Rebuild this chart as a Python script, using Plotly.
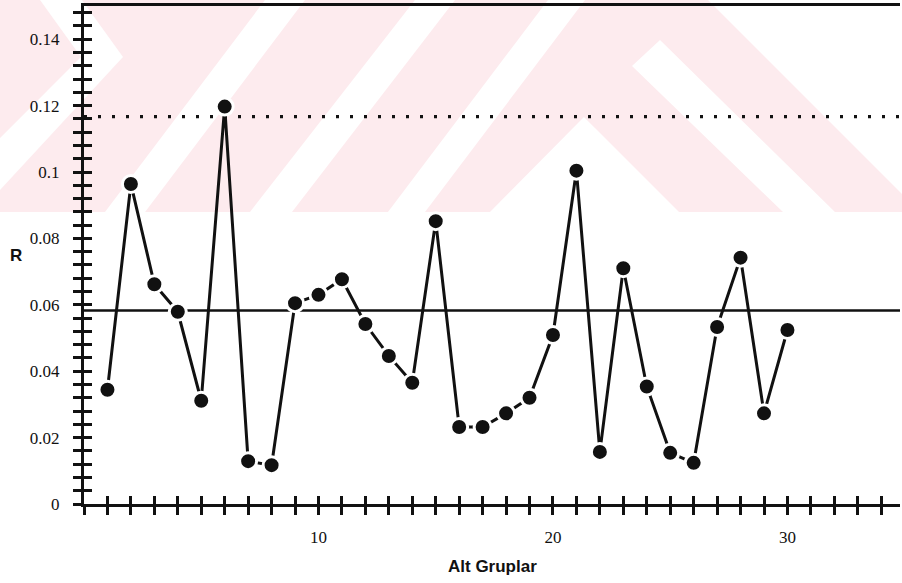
import plotly.graph_objects as go

# ---- data: subgroup ranges and control limits ----
subgroups = list(range(1, 31))
ranges = [0.0344, 0.0964, 0.0662, 0.0579, 0.0311, 0.1197, 0.0129, 0.0117, 0.0605, 0.0630,
          0.0677, 0.0542, 0.0446, 0.0365, 0.0852, 0.0232, 0.0232, 0.0273, 0.0320, 0.0509,
          0.1004, 0.0157, 0.0710, 0.0354, 0.0154, 0.0124, 0.0533, 0.0742, 0.0273, 0.0524]
center_line = 0.0583
upper_limit = 0.1167

x_label_vals = [10, 20, 30]
x_label_text = ["10", "20", "30"]
y_label_vals = [0, 0.02, 0.04, 0.06, 0.08, 0.10, 0.12, 0.14]
y_label_text = ["0", "0.02", "0.04", "0.06", "0.08", "0.1", "0.12", "0.14"]

X_RANGE = [0, 34.8]
Y_RANGE = [0, 0.15]

# tick marks: one per subgroup along x, every 0.004 along y
x_ticks = list(range(0, 35))
y_ticks = [round(i * 0.004, 3) for i in range(38)]
x_ticktext = [x_label_text[x_label_vals.index(v)] if v in x_label_vals else "" for v in x_ticks]
y_ticktext = []
for v in y_ticks:
    hit = [t for lv, t in zip(y_label_vals, y_label_text) if abs(lv - v) < 1e-9]
    y_ticktext.append(hit[0] if hit else "")

# ---- page geometry ----
W, H = 902, 583
ML, MR, MT, MB = 84, 2, 6, 79
PW, PH = W - ML - MR, H - MT - MB


def px_path(points):
    """Polygon given in page pixels -> SVG path in paper units."""
    segs = []
    for i, (px, py) in enumerate(points):
        xp = (px - ML) / PW
        yp = (H - MB - py) / PH
        segs.append(("M" if i == 0 else "L") + f"{xp:.4f},{yp:.4f}")
    return " ".join(segs) + " Z"


PINK = "#fdebee"
BAND_BOTTOM = 212

# faint background emblem: pink band cut by white chevrons and stripes
emblem_white = [
    [(40, 0), (82, 0), (123, 57), (0, 190), (0, 138), (81, 57)],
    [(105, BAND_BOTTOM), (145, BAND_BOTTOM), (305, 0), (265, 0)],
    [(250, BAND_BOTTOM), (292, BAND_BOTTOM), (455, 0), (415, 0)],
    [(388, BAND_BOTTOM), (425, BAND_BOTTOM), (585, 0), (548, 0)],
    [(584, 117), (490, BAND_BOTTOM), (679, BAND_BOTTOM)],
    [(632, 66), (660, 40), (835, BAND_BOTTOM), (783, BAND_BOTTOM)],
    [(708, 0), (W, 0), (W, 194)],
]

shapes = [dict(type="path", xref="paper", yref="paper", layer="below",
               path=px_path([(0, 0), (W, 0), (W, BAND_BOTTOM), (0, BAND_BOTTOM)]),
               fillcolor=PINK, line=dict(width=0))]
for poly in emblem_white:
    shapes.append(dict(type="path", xref="paper", yref="paper", layer="below",
                       path=px_path(poly), fillcolor="white", line=dict(width=0)))

INK = "#111111"
SERIF = "Times New Roman, Liberation Serif, DejaVu Serif, serif"
SANS = "Arial, Liberation Sans, sans-serif"

fig = go.Figure()

# control limits
fig.add_trace(go.Scatter(x=X_RANGE, y=[upper_limit, upper_limit], mode="lines",
                         line=dict(color=INK, width=3.2, dash="3px,11px"),
                         hoverinfo="skip", showlegend=False))
fig.add_trace(go.Scatter(x=X_RANGE, y=[center_line, center_line], mode="lines",
                         line=dict(color=INK, width=2.6),
                         hoverinfo="skip", showlegend=False))

# subgroup ranges
fig.add_trace(go.Scatter(x=subgroups, y=ranges, mode="lines+markers",
                         line=dict(color=INK, width=3),
                         marker=dict(color=INK, size=17, line=dict(color="white", width=3)),
                         showlegend=False))

# helper trace so the inward-tick overlay axes are drawn
fig.add_trace(go.Scatter(x=[None], y=[None], xaxis="x2", yaxis="y2",
                         hoverinfo="skip", showlegend=False))

axis_common = dict(showgrid=False, zeroline=False, tickcolor=INK, tickwidth=2.5)

fig.update_layout(
    width=W, height=H,
    margin=dict(l=ML, r=MR, t=MT, b=MB),
    paper_bgcolor="white",
    plot_bgcolor="rgba(0,0,0,0)",
    shapes=shapes,
    xaxis=dict(range=X_RANGE, tickmode="array", tickvals=x_ticks, ticktext=x_ticktext,
               ticks="outside", ticklen=8, showline=True, linewidth=3, linecolor=INK,
               mirror=True, ticklabelstandoff=8,
               tickfont=dict(family=SERIF, size=17, color=INK), **axis_common),
    yaxis=dict(range=Y_RANGE, tickmode="array", tickvals=y_ticks, ticktext=y_ticktext,
               ticks="outside", ticklen=8, showline=True, linewidth=3, linecolor=INK,
               ticklabelstandoff=10,
               tickfont=dict(family=SERIF, size=17, color=INK), **axis_common),
    xaxis2=dict(range=X_RANGE, overlaying="x", anchor="y", side="bottom",
                tickmode="array", tickvals=x_ticks, ticks="inside", ticklen=8,
                showticklabels=False, showline=False, **axis_common),
    yaxis2=dict(range=Y_RANGE, overlaying="y", anchor="x", side="left",
                tickmode="array", tickvals=y_ticks, ticks="inside", ticklen=8,
                showticklabels=False, showline=False, **axis_common),
    annotations=[
        dict(text="<b>Alt Gruplar</b>", xref="paper", yref="paper",
             x=(492 - ML) / PW, y=(H - MB - 566) / PH, xanchor="center", yanchor="middle",
             showarrow=False, font=dict(family=SANS, size=17, color=INK)),
        dict(text="<b>R</b>", xref="paper", yref="paper",
             x=(16 - ML) / PW, y=(H - MB - 255) / PH, xanchor="center", yanchor="middle",
             showarrow=False, font=dict(family=SANS, size=17, color=INK)),
    ],
)

fig.write_html("out.html")
